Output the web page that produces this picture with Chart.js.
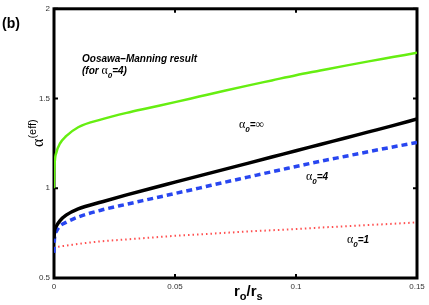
<!DOCTYPE html>
<html>
<head>
<meta charset="utf-8">
<script src="https://cdn.jsdelivr.net/npm/chart.js@4"></script>
<style>
  html, body { margin: 0; padding: 0; background: #fff; }
  #wrap { width: 429px; height: 305px; }
</style>
</head>
<body>
<div id="wrap"><canvas id="chart"></canvas></div>
<script>
// values
const rValues   = [0, 0.0002, 0.001, 0.0025, 0.005, 0.01, 0.02, 0.03, 0.04, 0.05, 0.06, 0.07, 0.08, 0.09, 0.1, 0.11, 0.12, 0.13, 0.14, 0.15];
const alphaInf  = [0.72, 0.76, 0.79, 0.82, 0.85, 0.885, 0.925, 0.963, 0.999, 1.034, 1.069, 1.104, 1.139, 1.174, 1.209, 1.244, 1.279, 1.314, 1.349, 1.386];
const alpha4    = [0.64, 0.72, 0.76, 0.79, 0.81, 0.84, 0.88, 0.911, 0.941, 0.971, 1.001, 1.032, 1.062, 1.092, 1.121, 1.15, 1.177, 1.204, 1.23, 1.255];
const alpha1    = [0.665, 0.668, 0.672, 0.676, 0.68, 0.69, 0.705, 0.715, 0.725, 0.735, 0.743, 0.751, 0.759, 0.766, 0.773, 0.781, 0.788, 0.795, 0.802, 0.81];
const manning   = [1.0, 1.12, 1.2, 1.25, 1.29, 1.34, 1.385, 1.42, 1.45, 1.48, 1.511, 1.542, 1.572, 1.601, 1.63, 1.656, 1.682, 1.707, 1.731, 1.755];
const xTicks = [0, 0.05, 0.1, 0.15];
const yTicks = [0.5, 1, 1.5, 2];

function points(ys) {
    return rValues.map(function(r, i) { return { x: r, y: ys[i] }; });
}

const SANS = "'Liberation Sans', Arial, sans-serif";
const SERIF = "'Liberation Serif', 'Times New Roman', serif";

// draw a run of text pieces side by side (for subscripts, greek letters)
function drawRuns(ctx, x, y, runs) {
    runs.forEach(function(run) {
        ctx.font = run.f;
        ctx.fillText(run.t, x, y + (run.dy || 0));
        x += ctx.measureText(run.t).width;
    });
}

function alphaLabel(sub, rest) {
    return [
        { t: 'α', f: '12px ' + SERIF },
        { t: sub, f: 'italic bold 8px ' + SANS, dy: 4 },
        { t: rest, f: 'italic bold 10px ' + SANS }
    ];
}

// frame and inward ticks, drawn under the curves
const frame = {
    id: 'frame',
    beforeDatasetsDraw: function(chart) {
        const ctx = chart.ctx;
        const area = chart.chartArea;
        const xs = chart.scales.x;
        const ys = chart.scales.y;
        ctx.save();
        ctx.strokeStyle = '#000';
        ctx.lineWidth = 2;
        xTicks.forEach(function(v) {
            const px = xs.getPixelForValue(v);
            ctx.beginPath();
            ctx.moveTo(px, area.bottom); ctx.lineTo(px, area.bottom - 4);
            ctx.moveTo(px, area.top); ctx.lineTo(px, area.top + 4);
            ctx.stroke();
        });
        yTicks.forEach(function(v) {
            const py = ys.getPixelForValue(v);
            ctx.beginPath();
            ctx.moveTo(area.left, py); ctx.lineTo(area.left + 4, py);
            ctx.moveTo(area.right, py); ctx.lineTo(area.right - 4, py);
            ctx.stroke();
        });
        ctx.lineWidth = 3;
        ctx.strokeRect(area.left, area.top, area.right - area.left, area.bottom - area.top);
        ctx.restore();
    }
};

// annotation text
const annotations = {
    id: 'annotations',
    afterDraw: function(chart) {
        const ctx = chart.ctx;
        ctx.save();
        ctx.fillStyle = '#000';
        ctx.textBaseline = 'alphabetic';
        ctx.textAlign = 'left';

        ctx.font = 'bold 14px ' + SANS;
        ctx.fillText('(b)', 2, 28);

        ctx.font = 'italic bold 10px ' + SANS;
        ctx.fillText('Oosawa\u2013Manning result', 82, 62);
        drawRuns(ctx, 82, 74, [
            { t: '(for ', f: 'italic bold 10px ' + SANS },
            { t: 'α', f: '12px ' + SERIF },
            { t: '0', f: 'italic bold 8px ' + SANS, dy: 4 },
            { t: '=4)', f: 'italic bold 10px ' + SANS }
        ]);

        drawRuns(ctx, 239, 128, [
            { t: 'α', f: '12px ' + SERIF },
            { t: '0', f: 'italic bold 8px ' + SANS, dy: 4 },
            { t: '=', f: 'italic bold 10px ' + SANS },
            { t: '∞', f: '12px ' + SERIF }
        ]);
        drawRuns(ctx, 306, 180, alphaLabel('0', '=4'));
        drawRuns(ctx, 347, 243, alphaLabel('0', '=1'));

        // x axis title r_o/r_s
        drawRuns(ctx, 234, 296, [
            { t: 'r', f: 'bold 15px ' + SANS },
            { t: 'o', f: 'bold 11px ' + SANS, dy: 4 },
            { t: '/r', f: 'bold 15px ' + SANS },
            { t: 's', f: 'bold 11px ' + SANS, dy: 4 }
        ]);

        // y axis title alpha^(eff)
        ctx.translate(43, 147);
        ctx.rotate(-Math.PI / 2);
        drawRuns(ctx, 0, 0, [
            { t: 'α', f: '16px ' + SERIF },
            { t: '(eff)', f: '11px ' + SANS, dy: -7 }
        ]);
        ctx.restore();
    }
};

const ctx = document.getElementById('chart').getContext('2d');
new Chart(ctx, {
    type: 'line',
    data: {
        datasets: [
            {
                label: 'Oosawa-Manning',
                data: points(manning),
                borderColor: '#66ee11',
                borderWidth: 2.5
            },
            {
                label: 'alpha0=inf',
                data: points(alphaInf),
                borderColor: '#000000',
                borderWidth: 3.5
            },
            {
                label: 'alpha0=4',
                data: points(alpha4),
                borderColor: '#2846f0',
                borderWidth: 3.5,
                borderDash: [6, 4]
            },
            {
                label: 'alpha0=1',
                data: points(alpha1),
                borderColor: '#ff5050',
                borderWidth: 2,
                borderDash: [1.5, 3]
            }
        ]
    },
    options: {
        responsive: true,
        maintainAspectRatio: false,
        animation: false,
        layout: { padding: { top: 7, right: 12, left: 0, bottom: 0 } },
        elements: {
            point: { radius: 0 },
            line: { cubicInterpolationMode: 'monotone', fill: false }
        },
        plugins: {
            legend: { display: false },
            tooltip: { enabled: false }
        },
        scales: {
            x: {
                type: 'linear',
                min: 0,
                max: 0.15,
                afterBuildTicks: function(scale) {
                    scale.ticks = xTicks.map(function(v) { return { value: v }; });
                },
                afterFit: function(scale) { scale.height = 27; },
                grid: { display: false, drawTicks: false },
                border: { display: false },
                ticks: {
                    padding: 4,
                    maxRotation: 0,
                    color: '#333',
                    font: { family: SANS, size: 8 },
                    callback: function(v) { return String(v); }
                }
            },
            y: {
                type: 'linear',
                min: 0.5,
                max: 2,
                afterBuildTicks: function(scale) {
                    scale.ticks = yTicks.map(function(v) { return { value: v }; });
                },
                afterFit: function(scale) { scale.width = 54; },
                grid: { display: false, drawTicks: false },
                border: { display: false },
                ticks: {
                    padding: 4,
                    color: '#333',
                    font: { family: SANS, size: 8 },
                    callback: function(v) { return String(v); }
                }
            }
        }
    },
    plugins: [frame, annotations]
});
</script>
</body>
</html>
